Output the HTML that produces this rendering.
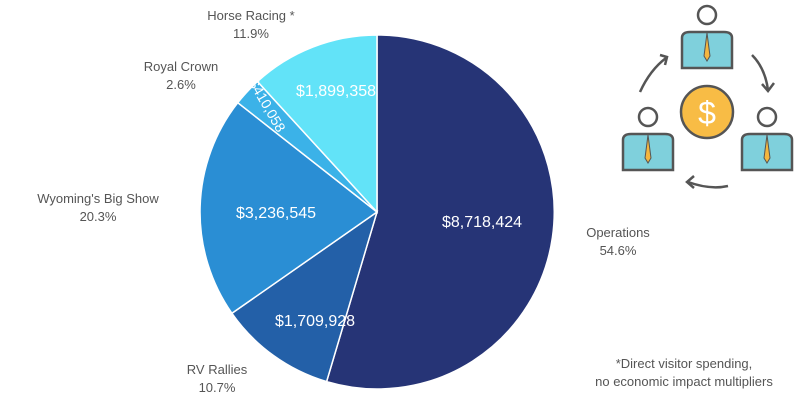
<!DOCTYPE html>
<html><head><style>
body{margin:0;background:#fff;}
svg{display:block;font-family:"Liberation Sans",sans-serif;}
</style></head><body>
<svg width="800" height="402" viewBox="0 0 800 402">
<rect width="800" height="402" fill="#fff"/>
<g stroke="#fff" stroke-width="1.5">
<path d="M377,212 L377,35 A177,177 0 1 1 326.6,381.6 Z" fill="#263476"/>
<path d="M377,212 L326.6,381.6 A177,177 0 0 1 231.9,313.3 Z" fill="#2360a8"/>
<path d="M377,212 L231.9,313.3 A177,177 0 0 1 237.8,102.7 Z" fill="#2a8ed4"/>
<path d="M377,212 L237.8,102.7 A177,177 0 0 1 257.5,81.5 Z" fill="#3bb2e8"/>
<path d="M377,212 L257.5,81.5 A177,177 0 0 1 377,35 Z" fill="#62e3f8"/>
</g>
<g fill="#fff" font-size="16" text-anchor="middle">
<text x="482" y="227">$8,718,424</text>
<text x="315" y="326">$1,709,928</text>
<text x="276" y="218">$3,236,545</text>
<text x="336" y="96">$1,899,358</text>
<text x="263" y="108" transform="rotate(60 263 108)" font-size="14">$410,058</text>
</g>
<g fill="#555" font-size="13" text-anchor="middle">
<text x="251" y="20">Horse Racing *</text><text x="251" y="38">11.9%</text>
<text x="181" y="71">Royal Crown</text><text x="181" y="89">2.6%</text>
<text x="98" y="203">Wyoming's Big Show</text><text x="98" y="221">20.3%</text>
<text x="618" y="237">Operations</text><text x="618" y="255">54.6%</text>
<text x="217" y="374">RV Rallies</text><text x="217" y="392">10.7%</text>
<text x="684" y="368">*Direct visitor spending,</text>
<text x="684" y="386">no economic impact multipliers</text>
</g>
<g stroke="#555" stroke-width="2.5" fill="none">
<path d="M640,92 Q650,70 666,58"/><path d="M660,55 L667,57 L665,65"/>
<path d="M752,55 Q765,68 768,90"/><path d="M762,84 L768,91 L774,83"/>
<path d="M728,186 Q710,190 688,182"/><path d="M694,176 L687,182 L694,188"/>
</g>
<g stroke="#555" stroke-width="2.5">
<g id="p"><circle cx="707" cy="15" r="9" fill="#fff"/>
<path d="M682,68 L682,38 Q682,32 690,32 L724,32 Q732,32 732,38 L732,68 Z" fill="#7fd0dc"/>
<path d="M707,33 L704,56 L707,61 L710,56 Z" fill="#f4b63f" stroke-width="1"/></g>
<use href="#p" x="-59" y="102"/><use href="#p" x="60" y="102"/>
<circle cx="707" cy="112" r="26" fill="#f8bc45"/>
</g>
<text x="707" y="124" fill="#fff" font-size="32" text-anchor="middle">$</text>
</svg>
</body></html>
